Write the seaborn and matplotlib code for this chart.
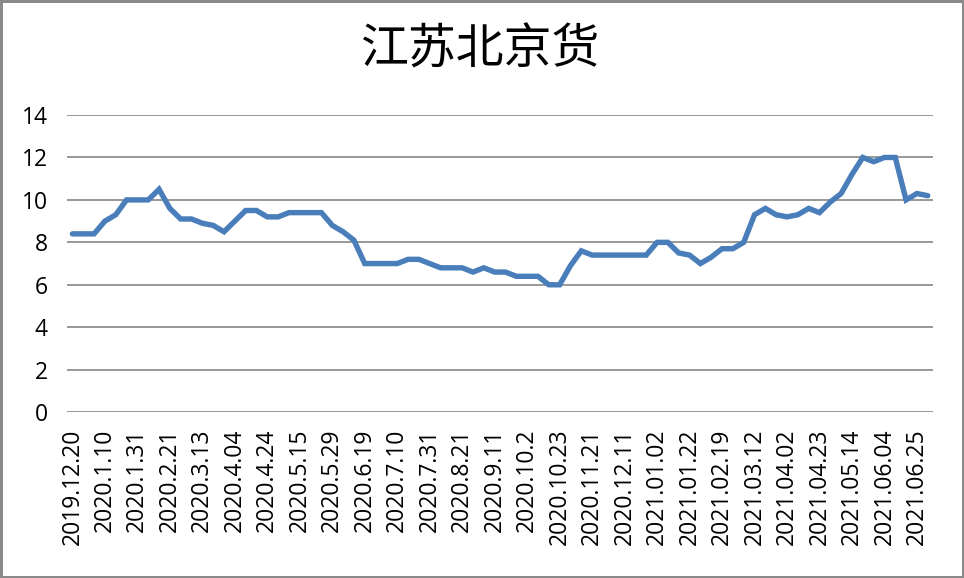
import numpy as np
import pandas as pd
import matplotlib
matplotlib.use("Agg")
import matplotlib.pyplot as plt
import seaborn as sns

title = "江苏北京货"

# weekly values, one per category
values = [8.4, 8.4, 8.4, 9.0, 9.3, 10.0, 10.0, 10.0, 10.5, 9.6,
          9.1, 9.1, 8.9, 8.8, 8.5, 9.0, 9.5, 9.5, 9.2, 9.2,
          9.4, 9.4, 9.4, 9.4, 8.8, 8.5, 8.1, 7.0, 7.0, 7.0,
          7.0, 7.2, 7.2, 7.0, 6.8, 6.8, 6.8, 6.6, 6.8, 6.6,
          6.6, 6.4, 6.4, 6.4, 6.0, 6.0, 6.9, 7.6, 7.4, 7.4,
          7.4, 7.4, 7.4, 7.4, 8.0, 8.0, 7.5, 7.4, 7.0, 7.3,
          7.7, 7.7, 8.0, 9.3, 9.6, 9.3, 9.2, 9.3, 9.6, 9.4,
          9.9, 10.3, 11.2, 12.0, 11.8, 12.0, 12.0, 10.0, 10.3, 10.2]

# labels shown on every third category
tick_labels = ["2019.12.20", "2020.1.10", "2020.1.31", "2020.2.21", "2020.3.13",
               "2020.4.04", "2020.4.24", "2020.5.15", "2020.5.29", "2020.6.19",
               "2020.7.10", "2020.7.31", "2020.8.21", "2020.9.11", "2020.10.2",
               "2020.10.23", "2020.11.21", "2020.12.11", "2021.01.02", "2021.01.22",
               "2021.02.19", "2021.03.12", "2021.04.02", "2021.04.23", "2021.05.14",
               "2021.06.04", "2021.06.25"]
tick_step = 3

df = pd.DataFrame({"idx": np.arange(len(values)), "value": values})

sns.set_style("white")
plt.rcParams['font.family'] = ['Open Sans', 'DejaVu Sans']

fig = plt.figure(figsize=(9.64, 5.78), dpi=100)
fig.patch.set_edgecolor("#8a8a8a")
fig.patch.set_linewidth(2.5)
ax = fig.add_axes([0.0695, 0.287, 0.8985, 0.514])

sns.lineplot(data=df, x="idx", y="value", ax=ax, color="#4A7EBB",
             linewidth=3.9, solid_joinstyle="miter")

ax.set_xlim(-0.5, len(values) - 0.5)
ax.set_ylim(0, 14)
ax.set_yticks(range(0, 15, 2))
ax.set_xticks(np.arange(0, len(tick_labels) * tick_step, tick_step))
ax.set_xticklabels(tick_labels, rotation=90, va="top", ha="center")
ax.tick_params(axis="both", length=0, labelsize=16.5, colors="black")
ax.tick_params(axis="y", pad=14)
ax.tick_params(axis="x", pad=12)
ax.yaxis.grid(True, color="#868686", linewidth=1.2)
ax.set_axisbelow(True)
for s in ax.spines.values():
    s.set_visible(False)
ax.set_xlabel("")
ax.set_ylabel("")

fig.text(0.499, 0.913, title, ha="center", va="center", fontsize=34.5,
         family=["Noto Sans CJK SC", "DejaVu Sans"], color="black")

fig.savefig("out.png", dpi=100)
